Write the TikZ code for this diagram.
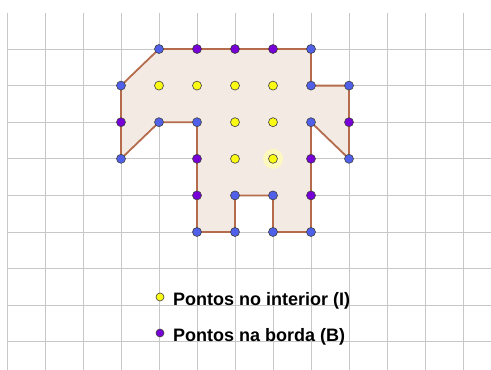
\documentclass[tikz,border=0pt]{standalone}
\usepackage{fontspec}
\setmainfont{Liberation Sans}
\begin{document}
\begin{tikzpicture}[x=1pt,y=-1pt,
  gridline/.style={draw=black!22,line width=0.8pt},
  poly/.style={draw=edgebrown,line width=1.8pt,fill=fillbeige,line join=round},
  vtx/.style={circle,draw=black!75,line width=0.6pt,fill=vblue,minimum size=9pt,inner sep=0pt},
  bpt/.style={circle,draw=black!75,line width=0.6pt,fill=bpurple,minimum size=9pt,inner sep=0pt},
  ipt/.style={circle,draw=black!75,line width=0.6pt,fill=iyellow,minimum size=9pt,inner sep=0pt},
  legend/.style={anchor=base west,inner sep=0pt,font=\fontsize{18}{20}\selectfont\bfseries}]
\definecolor{edgebrown}{RGB}{180,108,76}
\definecolor{fillbeige}{RGB}{244,234,228}
\definecolor{vblue}{RGB}{80,96,232}
\definecolor{bpurple}{RGB}{118,0,214}
\definecolor{iyellow}{RGB}{250,250,20}
\definecolor{glow}{RGB}{252,248,190}
\useasboundingbox (0,0) rectangle (491,370);
\fill[white] (0,0) rectangle (491,370);
% grid
\foreach \k in {0,...,12} \draw[gridline] ({7+38*\k},13) -- ({7+38*\k},370);
\foreach \k in {0,...,8} \draw[gridline] (7,{49+36.6*\k}) -- (491,{49+36.6*\k});
% lattice coordinates
\foreach \c/\x in {0/121,1/159,2/197,3/235,4/273,5/311,6/349}{
  \foreach \r/\y in {0/49,1/85.6,2/122.2,3/158.8,4/195.4,5/232}{
    \coordinate (c\c r\r) at (\x,\y);
  }
}
% polygon
\draw[poly] (c1r0) -- (c5r0) -- (c5r1) -- (c6r1) -- (c6r3) -- (c5r2) -- (c5r5) -- (c4r5) -- (c4r4) -- (c3r4) -- (c3r5) -- (c2r5) -- (c2r2) -- (c1r2) -- (c0r3) -- (c0r1) -- cycle;
% glow
\fill[glow] (c4r3) circle (10);
% vertices (blue)
\foreach \p in {c1r0,c5r0,c5r1,c6r1,c6r3,c5r2,c5r5,c4r5,c4r4,c3r4,c3r5,c2r5,c2r2,c1r2,c0r3,c0r1}
  \node[vtx] (v\p) at (\p) {};
% boundary points (purple)
\foreach \p in {c2r0,c3r0,c4r0,c6r2,c5r3,c5r4,c2r4,c2r3,c0r2}
  \node[bpt] (b\p) at (\p) {};
% interior points (yellow)
\foreach \p in {c1r1,c2r1,c3r1,c4r1,c3r2,c4r2,c3r3,c4r3}
  \node[ipt] (i\p) at (\p) {};
% legend
\node[ipt,minimum size=8pt] (legI) at (160,297) {};
\node[bpt,minimum size=8pt] (legB) at (160,333) {};
\node[legend] (txtI) at (173,305) {Pontos no interior (I)};
\node[legend] (txtB) at (173,341) {Pontos na borda (B)};
\end{tikzpicture}
\end{document}
